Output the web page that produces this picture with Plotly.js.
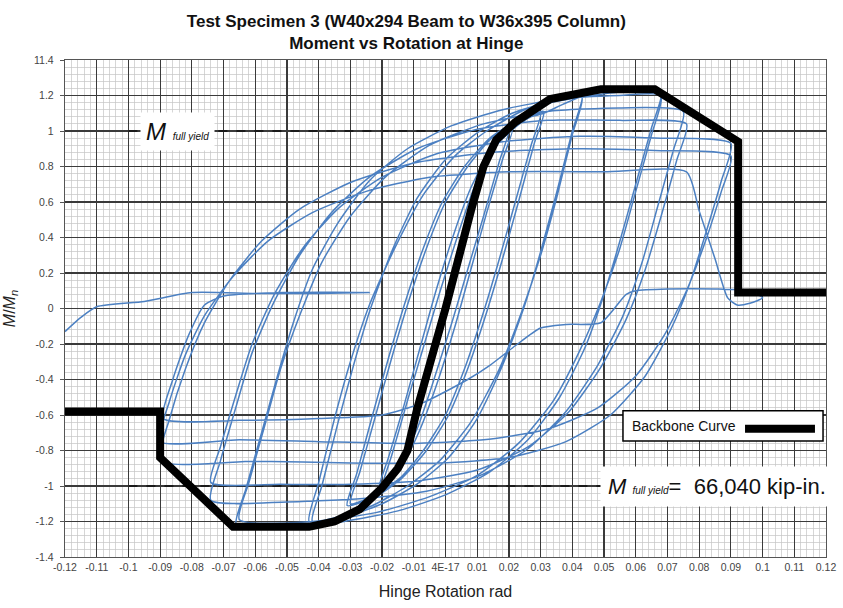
<!DOCTYPE html>
<html>
<head>
<meta charset="utf-8">
<script src="https://cdn.plot.ly/plotly-3.0.1.min.js"></script>
<style>html,body{margin:0;padding:0;background:#fff;}#chart{width:843px;height:608px;}</style>
</head>
<body>
<div id="chart"></div>
<script>
// ---- Tick labels ----
const xTickVals = [-0.12,-0.11,-0.10,-0.09,-0.08,-0.07,-0.06,-0.05,-0.04,-0.03,-0.02,-0.01,0,0.01,0.02,0.03,0.04,0.05,0.06,0.07,0.08,0.09,0.10,0.11,0.12];
const xTickText = ["-0.12","-0.11","-0.1","-0.09","-0.08","-0.07","-0.06","-0.05","-0.04","-0.03","-0.02","-0.01","4E-17","0.01","0.02","0.03","0.04","0.05","0.06","0.07","0.08","0.09","0.1","0.11","0.12"];
const yTickVals = [-1.4,-1.2,-1.0,-0.8,-0.6,-0.4,-0.2,0,0.2,0.4,0.6,0.8,1.0,1.2,1.4];
const yTickText = ["-1.4","-1.2","-1","-0.8","-0.6","-0.4","-0.2","0","0.2","0.4","0.6","0.8","1","1.2","11.4"];

// ---- Backbone curve ----
const backboneX = [-0.12,-0.09,-0.09,-0.067,-0.043,-0.035,-0.027,-0.020,-0.015,-0.012,-0.009,0.000,0.008,0.012,0.016,0.022,0.033,0.049,0.066,0.0923,0.0923,0.12];
const backboneY = [-0.58,-0.58,-0.84,-1.23,-1.23,-1.20,-1.13,-1.01,-0.90,-0.80,-0.57,0.00,0.55,0.80,0.95,1.05,1.18,1.235,1.235,0.94,0.09,0.09];

// ---- M full yield reference ----
const yieldLevels = [1, -1];
const yieldRange = [-0.10, 0.09];

// ---- Hysteresis cycles ----
const cyc1X = [0.000,0.005,0.010,0.012, 0.009,0.004,0.000,-0.005,-0.010,-0.012, -0.009,-0.004,0.000,0.005,0.010,0.012];
const cyc1Y = [0.00,0.36,0.72,0.80, 0.62,0.30,0.02,-0.34,-0.70,-0.80, -0.62,-0.30,-0.02,0.34,0.70,0.80];

const cyc2X = [0.015,0.018,0.020, 0.017,0.012,0.007,0.002,-0.004,-0.009,-0.014,-0.018,-0.020, -0.017,-0.012,-0.007,-0.002,0.004,0.009,0.014,0.018,0.021, 0.018,0.013,0.008,0.003,-0.003,-0.008,-0.013,-0.018,-0.021, -0.018,-0.013,-0.008,-0.003,0.003,0.008,0.014,0.020];
const cyc2Y = [0.91,0.97,1.00, 0.83,0.52,0.22,-0.08,-0.42,-0.68,-0.86,-0.96,-1.00, -0.83,-0.52,-0.22,0.08,0.42,0.68,0.86,0.96,1.00, 0.84,0.54,0.22,-0.10,-0.44,-0.68,-0.86,-0.97,-1.01, -0.84,-0.54,-0.22,0.10,0.44,0.68,0.88,0.99];

const cyc3X = [0.025,0.030, 0.027,0.022,0.017,0.012,0.006,0.000,-0.007,-0.014,-0.022,-0.030, -0.027,-0.022,-0.017,-0.012,-0.006,0.000,0.007,0.014,0.022,0.031, 0.028,0.023,0.018,0.013,0.007,0.001,-0.006,-0.014,-0.022,-0.031, -0.028,-0.023,-0.018,-0.013,-0.007,-0.001,0.006,0.014,0.023,0.031];
const cyc3Y = [1.06,1.10, 0.92,0.60,0.28,-0.02,-0.34,-0.60,-0.80,-0.95,-1.05,-1.10, -0.92,-0.60,-0.28,0.02,0.34,0.60,0.80,0.95,1.05,1.11, 0.93,0.60,0.28,-0.02,-0.34,-0.60,-0.80,-0.96,-1.06,-1.11, -0.93,-0.60,-0.28,0.02,0.34,0.60,0.80,0.96,1.06,1.10];

const cyc4X = [0.037,0.043, 0.040,0.035,0.030,0.025,0.018,0.010,0.001,-0.009,-0.020,-0.031,-0.042, -0.039,-0.034,-0.029,-0.024,-0.017,-0.009,0.000,0.010,0.021,0.032,0.043, 0.040,0.035,0.030,0.024,0.017,0.008,-0.002,-0.012,-0.023,-0.033,-0.043, -0.040,-0.035,-0.030,-0.024,-0.016,-0.007,0.003,0.013,0.025,0.036,0.046];
const cyc4Y = [1.15,1.19, 1.00,0.65,0.32,0.02,-0.32,-0.62,-0.84,-0.99,-1.10,-1.17,-1.20, -1.00,-0.65,-0.32,-0.02,0.32,0.62,0.84,0.99,1.10,1.16,1.19, 0.98,0.62,0.30,-0.02,-0.34,-0.64,-0.86,-1.00,-1.11,-1.17,-1.20, -0.98,-0.62,-0.30,0.02,0.34,0.64,0.86,1.00,1.12,1.17,1.20];

const cyc5X = [0.055,0.068, 0.065,0.060,0.055,0.050,0.044,0.036,0.026,0.014,0.000,-0.015,-0.032,-0.050,-0.066, -0.063,-0.058,-0.053,-0.048,-0.042,-0.034,-0.024,-0.012,0.002,0.018,0.036,0.055,0.068, 0.065,0.060,0.055,0.049,0.042,0.034,0.023,0.010,-0.005,-0.022,-0.042,-0.065];
const cyc5Y = [1.22,1.22, 1.02,0.70,0.38,0.08,-0.22,-0.50,-0.74,-0.92,-1.05,-1.14,-1.20,-1.23,-1.22, -1.02,-0.70,-0.38,-0.08,0.22,0.48,0.72,0.90,1.03,1.12,1.18,1.20,1.20, 0.98,0.66,0.34,0.04,-0.25,-0.52,-0.76,-0.94,-1.06,-1.15,-1.20,-1.19];

const cyc6X = [-0.062,-0.057,-0.052,-0.046,-0.039,-0.030,-0.019,-0.005,0.012,0.032,0.055,0.075, 0.072,0.067,0.062,0.056,0.048,0.038,0.026,0.011,-0.006,-0.026,-0.050,-0.074, -0.071,-0.066,-0.061,-0.054,-0.046,-0.036,-0.024,-0.009,0.010,0.032,0.055,0.076, 0.073,0.068,0.063,0.057,0.049,0.039,0.026,0.010,-0.008,-0.030,-0.052,-0.074];
const cyc6Y = [-0.98,-0.66,-0.34,-0.04,0.26,0.52,0.74,0.92,1.04,1.11,1.13,1.11, 0.90,0.58,0.26,-0.04,-0.32,-0.58,-0.79,-0.94,-1.03,-1.07,-1.09,-1.08, -0.86,-0.55,-0.25,0.04,0.30,0.54,0.74,0.90,1.01,1.06,1.06,1.04, 0.84,0.52,0.22,-0.06,-0.33,-0.58,-0.78,-0.91,-0.97,-0.99,-0.99,-0.98];

const cyc7X = [-0.071,-0.066,-0.061,-0.054,-0.045,-0.034,-0.020,-0.003,0.018,0.042,0.066,0.090, 0.087,0.082,0.077,0.071,0.063,0.052,0.038,0.020,-0.002,-0.030,-0.060,-0.090, -0.087,-0.082,-0.076,-0.068,-0.058,-0.046,-0.030,-0.010,0.015,0.040,0.066,0.090, 0.087,0.082,0.076,0.069,0.060,0.048,0.032,0.012,-0.012,-0.040,-0.065,-0.090];
const cyc7Y = [-0.78,-0.48,-0.20,0.08,0.34,0.56,0.74,0.87,0.94,0.97,0.96,0.93, 0.72,0.42,0.14,-0.12,-0.38,-0.60,-0.75,-0.84,-0.87,-0.87,-0.86,-0.86, -0.62,-0.34,-0.08,0.16,0.38,0.56,0.71,0.82,0.88,0.90,0.89,0.86, 0.66,0.38,0.10,-0.15,-0.38,-0.56,-0.68,-0.74,-0.76,-0.75,-0.74,-0.75];

const cyc8X = [-0.087,-0.082,-0.076,-0.067,-0.056,-0.042,-0.025,-0.005,0.020,0.050,0.076, 0.080,0.085,0.089,0.092,0.096,0.100, 0.095,0.085,0.070,0.060,0.057, 0.049,0.038,0.030,0.022,0.014,0.007,-0.007,-0.020,-0.040,-0.065,-0.089, -0.086,-0.081,-0.076,-0.070,-0.050,-0.024, -0.040,-0.060,-0.080,-0.095,-0.110,-0.115,-0.120];
const cyc8Y = [-0.52,-0.26,-0.04,0.18,0.38,0.54,0.66,0.74,0.77,0.77,0.77, 0.55,0.28,0.06,0.02,0.03,0.06, 0.10,0.11,0.11,0.10,0.08, -0.08,-0.09,-0.11,-0.21,-0.32,-0.40,-0.53,-0.60,-0.62,-0.63,-0.62, -0.40,-0.15,0.02,0.07,0.09,0.09, 0.085,0.085,0.09,0.04,0.01,-0.05,-0.13];

const hystX = [].concat(cyc1X,cyc2X,cyc3X,cyc4X,cyc5X,cyc6X,cyc7X,cyc8X);
const hystY = [].concat(cyc1Y,cyc2Y,cyc3Y,cyc4Y,cyc5Y,cyc6Y,cyc7Y,cyc8Y);

const FONT = 'Liberation Sans, Arial, sans-serif';

const traces = [
  {x: hystX, y: hystY, type: 'scatter', mode: 'lines',
   line: {color: '#4c80c2', width: 1.5, shape: 'spline', smoothing: 0.6},
   hoverinfo: 'skip', showlegend: false},
  {x: backboneX, y: backboneY, type: 'scatter', mode: 'lines',
   line: {color: '#000000', width: 8}, showlegend: false}
];

const shapes = yieldLevels.map(v => ({
  type: 'line', xref: 'x', yref: 'y', x0: yieldRange[0], x1: yieldRange[1], y0: v, y1: v,
  line: {color: '#111', width: 1.3, dash: 'dash'}, layer: 'between'
}));
// legend box (paper coords are relative to the plot area)
shapes.push({type: 'rect', xref: 'paper', yref: 'paper', x0: 0.7332, x1: 0.9961, y0: 0.2336, y1: 0.2941,
  fillcolor: '#fff', line: {color: '#000', width: 1.5}, layer: 'above'});
shapes.push({type: 'line', xref: 'paper', yref: 'paper', x0: 0.8936, x1: 0.9855, y0: 0.2578, y1: 0.2578,
  line: {color: '#000', width: 8}, layer: 'above'});

const annotations = [
  {xref: 'paper', yref: 'paper', x: 0.7424, y: 0.2638, xanchor: 'left', yanchor: 'middle', showarrow: false,
   text: 'Backbone Curve', font: {family: FONT, size: 14, color: '#111'}},
  {xref: 'x', yref: 'y', x: -0.0845, y: 1.0, xanchor: 'center', yanchor: 'middle', showarrow: false,
   text: '<i>M</i> <i><span style="font-size:10px">full yield</span></i>',
   font: {family: FONT, size: 24, color: '#111'}, bgcolor: '#fff', borderpad: 5},
  {xref: 'x', yref: 'y', x: 0.0855, y: -1.0, xanchor: 'center', yanchor: 'middle', showarrow: false,
   text: '<i>M</i> <i><span style="font-size:10px">full yield</span></i>=  66,040 kip-in.',
   font: {family: FONT, size: 22, color: '#111'}, bgcolor: '#fff', borderpad: 7}
];

const layout = {
  width: 843, height: 608,
  margin: {l: 65, r: 17, t: 60, b: 51},
  paper_bgcolor: '#fff', plot_bgcolor: '#fff',
  font: {family: FONT, color: '#333'},
  title: {text: '<b>Test Specimen 3 (W40x294 Beam to W36x395 Column)<br>Moment vs Rotation at Hinge</b>',
          x: 0.482, xanchor: 'center', xref: 'container', yref: 'container', y: 0.955, yanchor: 'middle',
          font: {family: FONT, size: 17, color: '#111'}},
  xaxis: {
    range: [-0.12, 0.12], tickmode: 'array', tickvals: xTickVals, ticktext: xTickText,
    tickfont: {family: FONT, size: 10.5, color: '#444'},
    showgrid: true, gridcolor: '#3a3a3a', gridwidth: 1.2, zeroline: false,
    showline: true, mirror: true, linecolor: '#555', linewidth: 1.2, ticks: '',
    minor: {tickmode: 'linear', tick0: 0, dtick: 0.002, showgrid: true, gridcolor: '#c4c4c4', gridwidth: 0.7},
    title: {text: 'Hinge Rotation rad', font: {family: FONT, size: 16, color: '#222'}, standoff: 14}
  },
  yaxis: {
    range: [-1.4, 1.4], tickmode: 'array', tickvals: yTickVals, ticktext: yTickText,
    tickfont: {family: FONT, size: 10.5, color: '#444'},
    showgrid: true, gridcolor: '#3a3a3a', gridwidth: 1.2, zeroline: false,
    showline: true, mirror: true, linecolor: '#555', linewidth: 1.2,
    ticks: 'outside', ticklen: 4, tickcolor: '#555', ticklabelstandoff: 4,
    minor: {tickmode: 'linear', tick0: 0, dtick: 0.04, showgrid: true, gridcolor: '#c4c4c4', gridwidth: 0.7},
    title: {text: '<i>M</i>/<i>M</i><sub><i>n</i></sub>', font: {family: FONT, size: 16, color: '#222'}, standoff: 14}
  },
  shapes: shapes,
  annotations: annotations
};

Plotly.newPlot('chart', traces, layout, {staticPlot: true, displayModeBar: false});
</script>
</body>
</html>
